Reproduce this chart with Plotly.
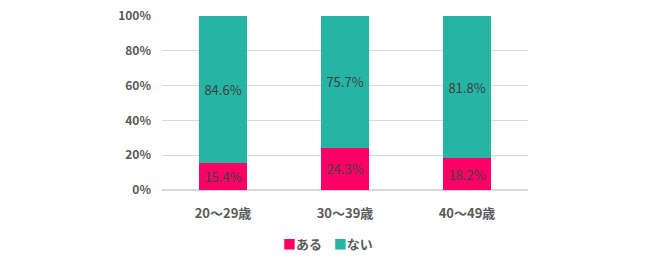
import plotly.graph_objects as go

categories = ["20～29歳", "30～39歳", "40～49歳"]
aru = [15.4, 24.3, 18.2]
nai = [84.6, 75.7, 81.8]
series_names = ["ある", "ない"]
colors = ["#FF0066", "#26B5A5"]

font_family = "Noto Sans CJK JP, sans-serif"

fig = go.Figure()
for name, vals, col in zip(series_names, [aru, nai], colors):
    fig.add_trace(go.Bar(
        x=categories, y=vals, name=name, marker=dict(color=col, line=dict(width=0)),
        text=[f"{v:.1f}%" for v in vals], textposition="inside",
        insidetextanchor="middle", constraintext="none",
        textfont=dict(family=font_family, size=13, color="#404040"),
        width=0.4, showlegend=False,
    ))

legend_text = "&nbsp;&nbsp;&nbsp;&nbsp;".join(
    f"<span style='color:{c}'>■</span>{n}" for n, c in zip(series_names, colors)
)
fig.add_annotation(
    text=legend_text, xref="paper", yref="paper", x=0.454, y=-0.305,
    xanchor="center", yanchor="middle", showarrow=False,
    font=dict(family=font_family, size=13, color="#595959", weight="bold"),
)

fig.update_layout(
    barmode="stack",
    width=650, height=259,
    margin=dict(l=162, r=122, t=16, b=69, autoexpand=False),
    paper_bgcolor="white", plot_bgcolor="white",
    font=dict(family=font_family, color="#595959"),
    showlegend=False,
)
fig.update_yaxes(range=[0, 100], dtick=20, ticksuffix="%", showgrid=True,
                 gridcolor="#D9D9D9", gridwidth=1, zeroline=True, zerolinecolor="#D9D9D9",
                 tickfont=dict(size=12, color="#595959", weight="bold"), ticks="",
                 ticklabelstandoff=10, automargin=False)
fig.update_xaxes(showline=False, ticks="", automargin=False,
                 tickfont=dict(size=13, color="#595959", weight="bold"),
                 ticklabelstandoff=14)

fig.write_html("out.html")
